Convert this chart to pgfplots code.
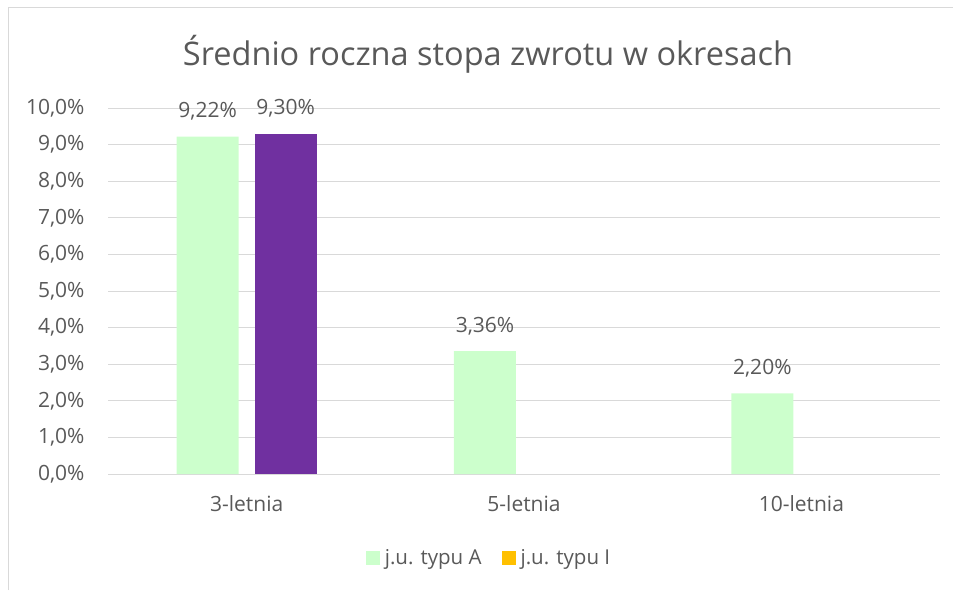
\documentclass[border=0pt]{standalone}
\usepackage{pgfplots}
\pgfplotsset{compat=1.18}
\usepackage{fontspec}
\setmainfont{Open Sans}
\definecolor{txt}{HTML}{595959}
\definecolor{gridc}{HTML}{D9D9D9}
\definecolor{cA}{HTML}{CCFFCC}
\definecolor{cI}{HTML}{7030A0}
\definecolor{cIleg}{HTML}{FFC000}
\begin{document}
\begin{tikzpicture}[x=1pt,y=1pt]
\path[use as bounding box] (0,0) rectangle (953,590);
\draw[gridc, line width=1pt] (8,0) -- (8,582) -- (953,582);
\node[txt, font=\fontsize{32.5}{38}\selectfont] at (488,536) {Średnio roczna stopa zwrotu w okresach};
\begin{axis}[
  at={(108pt,116pt)}, anchor=south west,
  scale only axis, width=832pt, height=366pt,
  xmin=-0.5, xmax=2.5, ymin=0, ymax=10,
  axis line style={draw=none},
  ymajorgrids, grid style={gridc, line width=1pt},
  major tick length=0pt,
  xtick={0,1,2}, xticklabels={3-letnia,5-letnia,10-letnia},
  ytick={0,1,...,10},
  yticklabels={{0,0\%},{1,0\%},{2,0\%},{3,0\%},{4,0\%},{5,0\%},{6,0\%},{7,0\%},{8,0\%},{9,0\%},{10,0\%}},
  tick label style={txt, font=\fontsize{21}{25}\selectfont},
  yticklabel style={xshift=-20pt},
  xticklabel style={yshift=-18pt},
  ybar, bar width=0.2236,
  point meta=explicit symbolic,
  nodes near coords,
  nodes near coords style={txt, font=\fontsize{21}{25}\selectfont, anchor=center, yshift=25pt},
  legend style={draw=none, fill=none, at={(0.4579,-0.2295)}, anchor=center,
    font=\fontsize{20.5}{24}\selectfont, text=txt, column sep=3pt,
    /tikz/column 2/.style={column sep=18pt}},
  legend columns=2,
  legend image code/.code={\fill[#1] (0pt,-7pt) rectangle (14pt,7pt);},
]
\addplot[fill=cA, draw=none, bar shift=-0.1407, forget plot] coordinates {(0,9.22) [{9,22\%}] (1,3.36) [{3,36\%}] (2,2.20) [{2,20\%}]};
\addplot[fill=cI, draw=none, bar shift=0.1407, forget plot] coordinates {(0,9.30) [{9,30\%}]};
\addlegendimage{fill=cA, draw=none}
\addlegendentry{j.u. typu A}
\addlegendimage{fill=cIleg, draw=none}
\addlegendentry{j.u. typu I}
\end{axis}
\end{tikzpicture}
\end{document}
